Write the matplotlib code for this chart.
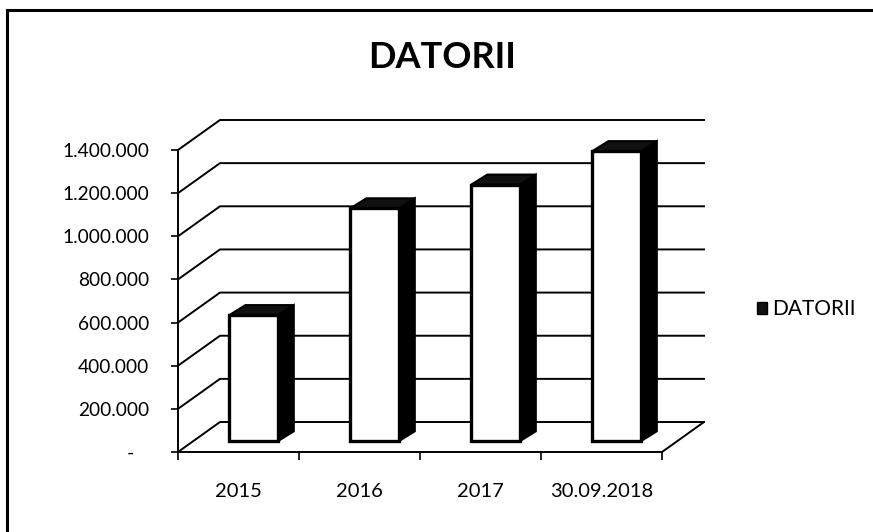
import numpy as np
import matplotlib.pyplot as plt
from matplotlib.patches import Polygon, Patch
from matplotlib.lines import Line2D

categories = ["2015", "2016", "2017", "30.09.2018"]
datorii = [585000, 1080000, 1190000, 1345000]
y_ticks = [0, 200000, 400000, 600000, 800000, 1000000, 1200000, 1400000]

plt.rcParams["font.family"] = ["Lato", "DejaVu Sans"]

# oblique "3D" offsets, in data units
floor_dx, floor_dy = 0.347, 139000      # depth of the floor / walls
bar_off_dx, bar_off_dy = 0.125, 50000   # front face of bars sits this deep
bar_dx, bar_dy = 0.132, 46000           # depth of each bar
bar_w = 0.40

fig = plt.figure(figsize=(8.73, 5.32), dpi=100)
ax = fig.add_axes([178 / 873, 80 / 532, 526 / 873, 332 / 532])
ax.set_xlim(-0.5, 3.5 + floor_dx)
ax.set_ylim(0, 1400000 + floor_dy)

# walls: grid lines on the left wall and back wall
for v in y_ticks:
    ax.plot([-0.5, -0.5 + floor_dx, 3.5 + floor_dx], [v, v + floor_dy, v + floor_dy],
            color="black", lw=1.4, zorder=1, clip_on=False)
# right edge of the floor
ax.plot([3.5, 3.5 + floor_dx], [0, floor_dy], color="black", lw=1.4, zorder=1, clip_on=False)

# bars
x = np.arange(len(categories))
xs = x + bar_off_dx
ax.bar(xs, datorii, width=bar_w, bottom=bar_off_dy, facecolor="white",
       edgecolor="black", linewidth=2.4, zorder=4)
for xc, h in zip(xs, datorii):
    xl, xr = xc - bar_w / 2, xc + bar_w / 2
    b, t = bar_off_dy, bar_off_dy + h
    side = Polygon([(xr, b), (xr + bar_dx, b + bar_dy), (xr + bar_dx, t + bar_dy), (xr, t)],
                   closed=True, facecolor="black", edgecolor="black", lw=1.5, zorder=3)
    top = Polygon([(xl, t), (xr, t), (xr + bar_dx, t + bar_dy), (xl + bar_dx, t + bar_dy)],
                  closed=True, facecolor="#111111", edgecolor="black", lw=1.5, zorder=3)
    ax.add_patch(side)
    ax.add_patch(top)

# axes
for s in ["top", "right"]:
    ax.spines[s].set_visible(False)
ax.spines["left"].set_bounds(0, 1400000)
ax.spines["bottom"].set_bounds(-0.5, 3.5)
ax.spines["left"].set_linewidth(1.4)
ax.spines["bottom"].set_linewidth(1.4)

ax.set_yticks(y_ticks)
ax.set_yticklabels(["-   " if v == 0 else f"{v:,.0f}".replace(",", ".") for v in y_ticks])
ax.tick_params(axis="y", length=5, width=1.2, pad=16, labelsize=13.8)

ax.set_xticks([-0.5, 0.5, 1.5, 2.5, 3.5])
ax.set_xticklabels([])
ax.set_xticks(x, minor=True)
ax.set_xticklabels(categories, minor=True)
ax.tick_params(axis="x", which="major", length=6, width=1.2)
ax.tick_params(axis="x", which="minor", length=0, pad=22, labelsize=14.5)

fig.text(442 / 873, 1 - 58 / 532, "DATORII", ha="center", va="center",
         fontsize=26, fontweight="bold")

fig.legend(handles=[Patch(facecolor="#111111", edgecolor="black", label="DATORII")],
           loc="center left", bbox_to_anchor=(738 / 873, 1 - 309 / 532), frameon=False,
           handlelength=0.5, handleheight=0.5, handletextpad=0.25, fontsize=15)

# outer frame (top and left edges only)
fig.add_artist(Line2D([7 / 873, 1], [1 - 10 / 532, 1 - 10 / 532], color="black", lw=2.2))
fig.add_artist(Line2D([7 / 873, 7 / 873], [0, 1 - 10 / 532], color="black", lw=2.2))

fig.savefig("out.png", dpi=100)
